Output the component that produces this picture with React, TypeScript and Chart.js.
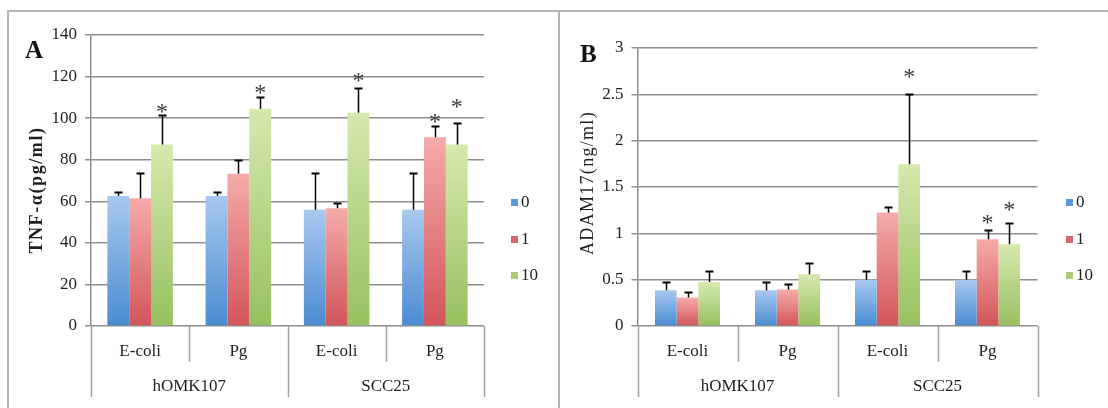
import React, { useEffect, useRef } from "react";
import { Chart, registerables } from "chart.js";

Chart.register(...registerables);

// ---------- data ----------
const categories = ["E-coli", "Pg", "E-coli", "Pg"];
const groupLabels = ["hOMK107", "SCC25"];
const seriesNames = ["0", "1", "10"];

// Panel A: TNF-α (pg/ml)
const tnf0 = [62.6, 62.6, 55.9, 55.9];
const tnf1 = [61.5, 73.3, 56.7, 90.8];
const tnf10 = [87.3, 104.5, 102.6, 87.3];
const tnfErr0 = [1.8, 1.8, 17.7, 17.7];
const tnfErr1 = [12.0, 6.4, 2.4, 5.3];
const tnfErr10 = [14.0, 5.6, 11.7, 10.5];
const tnfStar0 = [null, null, null, null];
const tnfStar1 = [null, null, null, 100];
const tnfStar10 = [104.7, 113.9, 119.9, 107.1];
const tnfMax = 140;
const tnfStep = 20;

// Panel B: ADAM17 (ng/ml)
const adam0 = [0.385, 0.385, 0.5, 0.5];
const adam1 = [0.307, 0.393, 1.224, 0.936];
const adam10 = [0.475, 0.558, 1.746, 0.882];
const adamErr0 = [0.09, 0.09, 0.094, 0.094];
const adamErr1 = [0.06, 0.057, 0.061, 0.104];
const adamErr10 = [0.115, 0.122, 0.756, 0.234];
const adamStar0 = [null, null, null, null];
const adamStar1 = [null, null, null, 1.16];
const adamStar10 = [null, null, 2.73, 1.3];
const adamMax = 3;
const adamStep = 0.5;

// ---------- styles ----------
const SERIF = "'Liberation Serif', 'Times New Roman', serif";
const GRID = "#8e8e8e";
const DIVIDER = "#a0a0a0";
const TEXT = "#1e1e1e";
const colorTop = ["#a8c8ee", "#f5abaa", "#d6e9ae"];
const colorBottom = ["#4a8cd2", "#d2555a", "#97c05f"];
const legendColor = ["#5b98d8", "#dc6668", "#a9cc78"];

type Star = number | null;

interface PanelCfg {
  left: number;
  width: number;
  plotLeft: number;
  plotRight: number;
  plotTop: number;
  plotBottom: number;
  values: number[][];
  errors: number[][];
  stars: Star[][];
  max: number;
  step: number;
  catPct: number;
  letter: string;
  letterX: number;
  letterY: number;
  yTitle: string;
  yTitleX: number;
  yTitleY: number;
  yTitleBold: boolean;
  yTitleSize: number;
  yTitleSpacing: number;
  legendX: number;
}

const LEGEND_Y = [203, 240, 276];
const SUB_LABEL_Y = 352;
const GROUP_LABEL_Y = 387;
const SUB_DIV_BOTTOM = 362;
const GROUP_DIV_BOTTOM = 397;

function gradientFor(k: number) {
  return (c: any) => {
    const chart = c.chart;
    if (!chart.chartArea || c.type !== "data") return colorBottom[k];
    const y = chart.scales.y;
    const v = c.raw as number;
    const y0 = y.getPixelForValue(v);
    const y1 = y.getPixelForValue(0);
    if (!isFinite(y0) || !isFinite(y1) || y1 - y0 < 1) return colorBottom[k];
    const g = chart.ctx.createLinearGradient(0, y0, 0, y1);
    g.addColorStop(0, colorTop[k]);
    g.addColorStop(1, colorBottom[k]);
    return g;
  };
}

function makeDecor(cfg: PanelCfg) {
  return {
    id: "panelDecor",
    afterDatasetsDraw(chart: any) {
      const ctx: CanvasRenderingContext2D = chart.ctx;
      const y = chart.scales.y;
      ctx.save();
      // error bars
      cfg.errors.forEach((errs, di) => {
        const meta = chart.getDatasetMeta(di);
        meta.data.forEach((bar: any, i: number) => {
          const v = cfg.values[di][i];
          const top = Math.round(y.getPixelForValue(v + errs[i])) + 0.5;
          const x = Math.round(bar.x) + 0.5;
          ctx.strokeStyle = "#000";
          ctx.lineWidth = 1.5;
          ctx.beginPath();
          ctx.moveTo(x, bar.y);
          ctx.lineTo(x, top);
          ctx.stroke();
          ctx.lineWidth = 2;
          ctx.beginPath();
          ctx.moveTo(x - 4, top);
          ctx.lineTo(x + 4, top);
          ctx.stroke();
        });
      });
      // asterisks
      ctx.fillStyle = "#3a3a3a";
      ctx.font = `24px ${SERIF}`;
      ctx.textAlign = "center";
      ctx.textBaseline = "alphabetic";
      cfg.stars.forEach((st, di) => {
        const meta = chart.getDatasetMeta(di);
        meta.data.forEach((bar: any, i: number) => {
          const s = st[i];
          if (s === null || s === undefined) return;
          const cy = y.getPixelForValue(s);
          ctx.fillText("*", bar.x, cy + 11);
        });
      });
      ctx.restore();
    },
    afterDraw(chart: any) {
      const ctx: CanvasRenderingContext2D = chart.ctx;
      const area = chart.chartArea;
      const xs = chart.scales.x;
      const n = categories.length;
      const cw = (area.right - area.left) / n;
      ctx.save();
      // dividers under the axis
      ctx.strokeStyle = DIVIDER;
      ctx.lineWidth = 1.5;
      const perGroup = n / groupLabels.length;
      for (let i = 0; i <= n; i++) {
        const x = Math.round(area.left + i * cw) + 0.5;
        const bottom = i % perGroup === 0 ? GROUP_DIV_BOTTOM : SUB_DIV_BOTTOM;
        ctx.beginPath();
        ctx.moveTo(x, area.bottom);
        ctx.lineTo(x, bottom);
        ctx.stroke();
      }
      // category labels
      ctx.fillStyle = TEXT;
      ctx.font = `17px ${SERIF}`;
      ctx.textAlign = "center";
      ctx.textBaseline = "middle";
      categories.forEach((c, i) => {
        ctx.fillText(c, xs.getPixelForValue(i), SUB_LABEL_Y);
      });
      groupLabels.forEach((g, gi) => {
        const cx = area.left + (gi + 0.5) * perGroup * cw;
        ctx.fillText(g, cx, GROUP_LABEL_Y);
      });
      // legend
      seriesNames.forEach((s, k) => {
        const ly = LEGEND_Y[k];
        ctx.fillStyle = legendColor[k];
        ctx.fillRect(cfg.legendX, ly - 4, 7, 7);
        ctx.fillStyle = TEXT;
        ctx.textAlign = "left";
        ctx.font = `17px ${SERIF}`;
        ctx.fillText(s, cfg.legendX + 10, ly);
      });
      // panel letter
      ctx.fillStyle = "#111";
      ctx.font = `bold 25px ${SERIF}`;
      ctx.textAlign = "left";
      ctx.textBaseline = "alphabetic";
      ctx.fillText(cfg.letter, cfg.letterX, cfg.letterY);
      // y title
      ctx.translate(cfg.yTitleX, cfg.yTitleY);
      ctx.rotate(-Math.PI / 2);
      (ctx as any).letterSpacing = `${cfg.yTitleSpacing}px`;
      ctx.font = `${cfg.yTitleBold ? "bold " : ""}${cfg.yTitleSize}px ${SERIF}`;
      ctx.textAlign = "center";
      ctx.textBaseline = "middle";
      ctx.fillStyle = TEXT;
      ctx.fillText(cfg.yTitle, 0, 0);
      ctx.restore();
    },
  };
}

function Panel({ cfg }: { cfg: PanelCfg }) {
  const ref = useRef<HTMLCanvasElement>(null);
  useEffect(() => {
    const canvas = ref.current!;
    const H = 408;
    const chart = new Chart(canvas, {
      type: "bar",
      data: {
        labels: categories,
        datasets: cfg.values.map((vals, k) => ({
          label: seriesNames[k],
          data: vals,
          backgroundColor: gradientFor(k),
          borderWidth: 0,
          categoryPercentage: cfg.catPct,
          barPercentage: 1,
        })),
      },
      options: {
        responsive: false,
        animation: false,
        devicePixelRatio: 1,
        layout: {
          padding: {
            left: 0,
            top: cfg.plotTop,
            right: cfg.width - cfg.plotRight,
            bottom: H - cfg.plotBottom,
          },
        },
        plugins: {
          legend: { display: false },
          tooltip: { enabled: false },
          title: { display: false },
        },
        scales: {
          x: { display: false },
          y: {
            min: 0,
            max: cfg.max,
            afterFit: (s: any) => {
              s.width = cfg.plotLeft;
            },
            ticks: {
              stepSize: cfg.step,
              color: TEXT,
              padding: 8,
              font: { family: SERIF, size: 17 },
              callback: (v: any) => String(Math.round(Number(v) * 100) / 100),
            },
            grid: {
              color: GRID,
              lineWidth: 1.5,
              tickLength: 6,
              drawTicks: true,
            },
            border: { display: true, color: GRID, width: 1.5 },
          },
        },
      },
      plugins: [makeDecor(cfg)],
    } as any);
    return () => chart.destroy();
  }, []);
  return (
    <canvas
      ref={ref}
      width={cfg.width}
      height={408}
      style={{ position: "absolute", left: cfg.left, top: 0, width: cfg.width, height: 408 }}
    />
  );
}

const panelA: PanelCfg = {
  left: 0,
  width: 559,
  plotLeft: 91,
  plotRight: 484,
  plotTop: 35,
  plotBottom: 326,
  values: [tnf0, tnf1, tnf10],
  errors: [tnfErr0, tnfErr1, tnfErr10],
  stars: [tnfStar0, tnfStar1, tnfStar10],
  max: tnfMax,
  step: tnfStep,
  catPct: 0.667,
  letter: "A",
  letterX: 25,
  letterY: 58,
  yTitle: "TNF-α(pg/ml)",
  yTitleX: 37,
  yTitleY: 190,
  yTitleBold: true,
  yTitleSize: 18,
  yTitleSpacing: 1.6,
  legendX: 511,
};

const panelB: PanelCfg = {
  left: 559,
  width: 549,
  plotLeft: 78.5,
  plotRight: 478.5,
  plotTop: 48,
  plotBottom: 326,
  values: [adam0, adam1, adam10],
  errors: [adamErr0, adamErr1, adamErr10],
  stars: [adamStar0, adamStar1, adamStar10],
  max: adamMax,
  step: adamStep,
  catPct: 0.65,
  letter: "B",
  letterX: 21,
  letterY: 62,
  yTitle: "ADAM17(ng/ml)",
  yTitleX: 29,
  yTitleY: 183,
  yTitleBold: false,
  yTitleSize: 18,
  yTitleSpacing: 1.3,
  legendX: 507,
};

export default function App() {
  const line = "#b4b4b4";
  return (
    <div
      style={{
        position: "fixed",
        left: 0,
        top: 0,
        width: 1108,
        height: 408,
        background: "#fff",
        overflow: "hidden",
      }}
    >
      <Panel cfg={panelA} />
      <Panel cfg={panelB} />
      <div style={{ position: "absolute", left: 7, top: 10, width: 1101, height: 2, background: line }} />
      <div style={{ position: "absolute", left: 7, top: 10, width: 2, height: 398, background: line }} />
      <div style={{ position: "absolute", left: 558, top: 10, width: 2, height: 398, background: line }} />
    </div>
  );
}
